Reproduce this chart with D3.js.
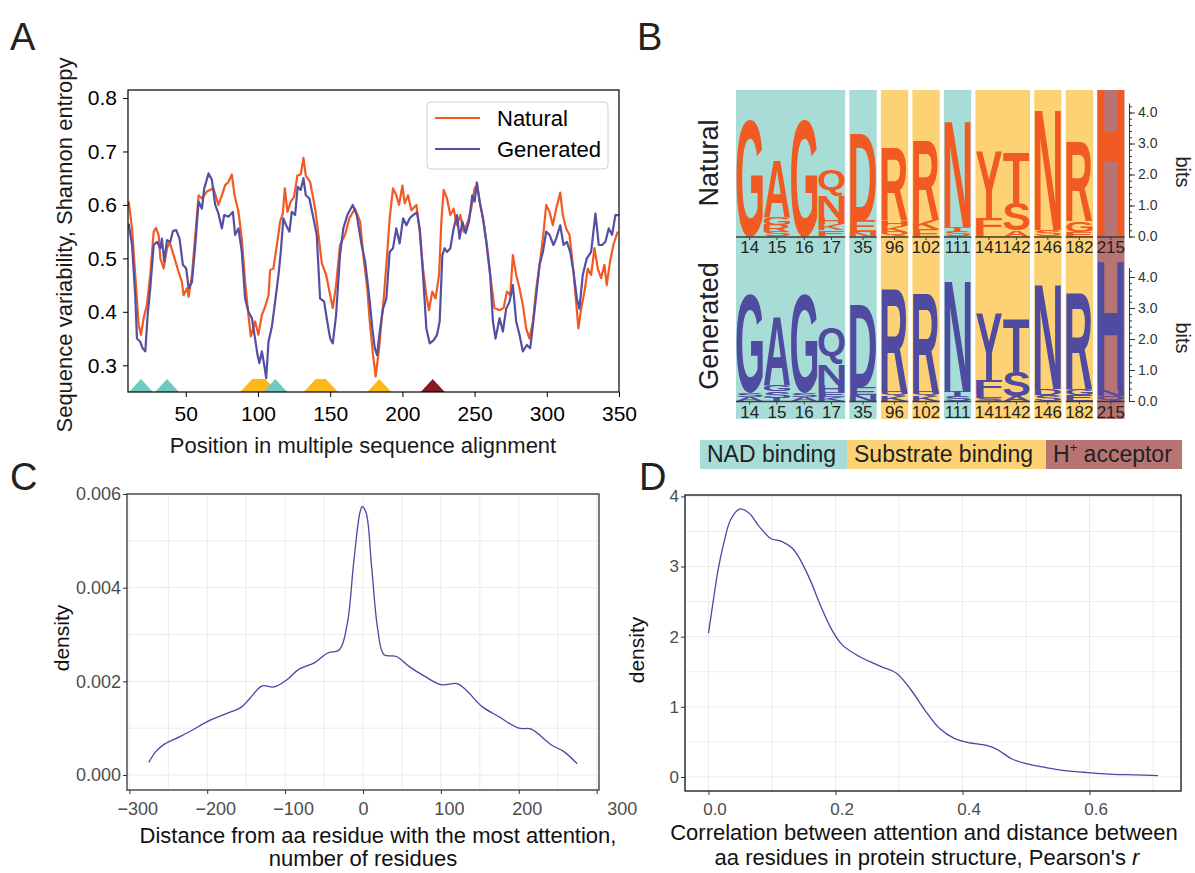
<!DOCTYPE html>
<html>
<head>
<meta charset="utf-8">
<script src="https://cdn.jsdelivr.net/npm/d3@7"></script>
<style>
  body { margin: 0; background: #fff; }
  svg text { font-family: "Liberation Sans", Arial, sans-serif; }
</style>
</head>
<body>
<svg id="fig" width="1195" height="873"></svg>
<script>
// Panel A: sequence variability (Shannon entropy) along the MSA
const naturalPos = [10.5,12.8,15,17.4,19,20.8,23.1,25.4,27.8,29.4,31.2,32.4,34.7,37,38.8,41.6,45,47.3,48.5,50.8,
  52,54.3,56.6,58.9,61.2,64.6,69.2,72.6,75,77.3,79.6,81.9,83.8,86.5,88.8,91.1,93.4,95,98,100.3,
  102.7,105,107.3,108.4,110.7,113.1,115.4,117.2,118.6,120.4,122.7,125,127.3,129.6,131.5,133.1,136.1,139.6,141.9,144.2,
  147.2,149.5,151.8,154.1,156.8,160.3,163.3,167.2,170.7,173.4,175.7,
  177.4,179.7,181.5,183.9,185.5,187.1,189.4,191.2,193.5,195.8,197.7,200,201.6,203.9,206.2,209.7,212,214.3,216.6,218.4,
  220.7,223,225.4,227,228.6,230.9,233.2,235.5,237.8,240.1,242.4,245.4,247.7,250,251.6,254,256.2,258.5,260.8,263.8,
  267.3,270.1,272.4,274.7,276.5,278.8,281.1,283.4,285.7,288,290.4,292.7,295,297.3,299.6,301.9,304.2,306.5,309.3,311.1,
  313.4,315.7,318,320.3,321.9,323.8,326.1,328.4,330.7,333,335.3,337.6,339.9,341.5,343.8,346.1,349.1];
const naturalEntropy = [0.606,0.556,0.469,0.375,0.357,0.388,0.413,0.469,0.55,0.557,0.544,0.5,0.481,0.519,0.531,0.506,0.475,0.456,0.431,0.444,
  0.428,0.469,0.544,0.618,0.612,0.625,0.631,0.6,0.618,0.637,0.643,0.657,0.618,0.587,0.537,0.456,0.394,0.354,0.382,0.357,
  0.394,0.41,0.431,0.478,0.481,0.525,0.569,0.584,0.631,0.587,0.606,0.615,0.655,0.657,0.688,0.655,0.643,0.593,0.544,0.491,
  0.469,0.438,0.407,0.45,0.525,0.544,0.575,0.593,0.569,0.494,0.444,
  0.382,0.319,0.279,0.332,0.382,0.425,0.506,0.575,0.631,0.618,0.6,0.636,0.603,0.618,0.59,0.6,0.55,0.481,0.431,0.403,
  0.438,0.425,0.469,0.569,0.628,0.612,0.581,0.593,0.562,0.581,0.55,0.569,0.593,0.631,0.637,0.6,0.569,0.525,0.469,0.407,
  0.403,0.407,0.438,0.431,0.506,0.469,0.444,0.413,0.369,0.35,0.382,0.444,0.488,0.537,0.6,0.587,0.562,0.593,0.623,0.581,
  0.556,0.544,0.488,0.419,0.369,0.406,0.438,0.481,0.469,0.519,0.481,0.463,0.488,0.45,0.494,0.525,0.55];
const generatedPos = [10.5,12.8,15,16.2,18.5,20.1,22,23.6,25.4,27.8,30.1,32.4,33.5,35.1,37,39.3,41.1,43.4,45.7,48,
  50.3,52,54.3,56.6,58.9,61.2,62.8,65.8,68.1,70.4,72.6,75,76.6,79.6,82.6,84.2,86.5,88.8,91.1,93.4,
  95.8,98,99.7,101,102.7,104.3,105.7,107.3,109.6,111.9,114.2,115.8,117.6,119.5,121.8,123.4,125.7,127.5,129.6,131.5,
  133.1,135.6,138.4,140.7,143,145.8,147.6,150,151.8,154.1,156.8,159.1,161.9,165.6,168.4,171.8,174.2,176.4,
  177.4,179.2,180.9,182.5,184.3,186.6,188.9,191.2,193.5,195.8,198.1,200.5,202.8,205.1,207.4,210.1,212,214.3,216.6,218.9,
  221.7,224,225.8,227.7,229.3,230.9,233.2,235.5,237.8,239.6,241.5,243.8,246.1,248.4,250,251.6,253.5,255.8,258.1,260.8,
  262.7,264.5,267.3,269.6,271.9,274.2,276.5,278.8,281.1,283.4,286.2,288.5,290.4,292.7,295,297.3,299.6,301.9,304.6,306.5,
  309.3,311.6,313.9,316.2,318.5,320.8,322.6,324.9,327.7,330.7,333.7,336,338.3,340.6,342.9,345.2,347.5,349.8];
const generatedEntropy = [0.565,0.525,0.431,0.35,0.344,0.332,0.326,0.394,0.444,0.525,0.531,0.519,0.537,0.494,0.534,0.531,0.551,0.553,0.537,0.488,
  0.481,0.444,0.456,0.525,0.606,0.593,0.631,0.659,0.647,0.6,0.584,0.556,0.581,0.578,0.587,0.544,0.556,0.512,0.425,0.4,
  0.388,0.35,0.319,0.304,0.326,0.301,0.276,0.344,0.372,0.419,0.469,0.512,0.575,0.562,0.55,0.587,0.581,0.634,0.628,0.65,
  0.618,0.612,0.575,0.544,0.425,0.419,0.388,0.35,0.341,0.394,0.506,0.556,0.581,0.6,0.581,0.525,0.494,0.444,
  0.419,0.369,0.332,0.319,0.363,0.406,0.425,0.512,0.519,0.556,0.528,0.575,0.562,0.575,0.581,0.586,0.556,0.469,0.369,0.341,
  0.347,0.357,0.382,0.506,0.519,0.512,0.519,0.556,0.581,0.537,0.569,0.547,0.569,0.618,0.606,0.642,0.606,0.575,0.531,0.469,
  0.382,0.35,0.388,0.363,0.406,0.419,0.45,0.382,0.357,0.326,0.338,0.332,0.375,0.431,0.488,0.512,0.55,0.544,0.525,0.537,
  0.562,0.525,0.531,0.512,0.475,0.425,0.406,0.469,0.5,0.512,0.584,0.525,0.525,0.531,0.556,0.544,0.581,0.581];
const entropyTicks = [0.3, 0.4, 0.5, 0.6, 0.7, 0.8];
const positionTicks = [50, 100, 150, 200, 250, 300, 350];
// functional sites marked under the curves (alignment positions)
const siteStart = [96, 140, 184, 19, 37, 112, 221];
const siteEnd   = [105, 147, 184, 19, 37, 112, 221];
const siteRole  = ["Sub", "Sub", "Sub", "NAD", "NAD", "NAD", "H"];

// Panel B: sequence logos of the key residues, letters stacked bottom to top as [letter, bits]
const logoResidues = [14, 15, 16, 17, 35, 96, 102, 111, 141, 142, 146, 182, 215];
const logoRoles = ["NAD", "NAD", "NAD", "NAD", "NAD", "Sub", "Sub", "NAD", "Sub", "Sub", "Sub", "Sub", "H"];
const naturalLogo = [
  [["G", 3.77]],
  [["S", 0.15], ["R", 0.23], ["G", 0.24], ["A", 1.84]],
  [["G", 3.77]],
  [["E", 0.2], ["K", 0.2], ["H", 0.2], ["N", 0.71], ["Q", 0.84]],
  [["N", 0.15], ["E", 0.35], ["D", 2.8]],
  [["Q", 0.15], ["K", 0.2], ["H", 0.15], ["R", 2.35]],
  [["E", 0.25], ["K", 0.27], ["R", 2.58]],
  [["S", 0.15], ["T", 0.15], ["N", 3.45]],
  [["L", 0.15], ["F", 0.45], ["Y", 2.15]],
  [["A", 0.2], ["S", 0.87], ["T", 1.65]],
  [["S", 0.2], ["N", 3.9]],
  [["E", 0.15], ["G", 0.35], ["R", 2.58]],
  [["H", 5.7]]
];
const generatedLogo = [
  [["A", 0.12], ["S", 0.12], ["G", 3.2]],
  [["T", 0.1], ["S", 0.22], ["G", 0.2], ["A", 2.2]],
  [["A", 0.12], ["S", 0.12], ["G", 3.2]],
  [["K", 0.12], ["E", 0.15], ["H", 0.25], ["N", 0.68], ["Q", 1.2]],
  [["N", 0.2], ["E", 0.25], ["D", 2.65]],
  [["K", 0.15], ["Q", 0.15], ["R", 3.3]],
  [["K", 0.15], ["Q", 0.15], ["R", 3.2]],
  [["S", 0.15], ["T", 0.15], ["N", 3.6]],
  [["S", 0.1], ["L", 0.15], ["F", 0.42], ["Y", 2.15]],
  [["A", 0.15], ["S", 0.8], ["T", 1.7]],
  [["S", 0.2], ["D", 0.2], ["N", 3.4]],
  [["E", 0.2], ["G", 0.2], ["R", 3.1]],
  [["Q", 0.15], ["N", 0.2], ["H", 4.2]]
];
const bitTicks = [0, 1, 2, 3, 4];
const roleLabels = ["NAD binding", "Substrate binding", "H+ acceptor"];

// Panel C: distance from the residue with the most attention (density)
const distX = [-275,-266,-255,-235,-219,-200,-177,-156,-145,-130,-114,-98,-83,-62,-46,-30,-20,-12,-4,-1,
  4,11,19,27,43,59,80,100,121,132,153,174,200,216,242,258,275];
const distDensity = [0.00027,0.0005,0.00066,0.00082,0.00096,0.00114,0.0013,0.00145,0.00164,0.0019,0.00188,0.00203,0.00225,0.0024,0.0026,0.00268,0.00325,0.00453,0.0056,0.00573,
  0.0056,0.00446,0.0031,0.00257,0.00253,0.00232,0.0021,0.00193,0.00195,0.00182,0.00146,0.00125,0.001,0.00098,0.00064,0.0005,0.00024];
const distTicks = [-300, -200, -100, 0, 100, 200, 300];
const distDensityTicks = [0, 0.002, 0.004, 0.006];

// Panel D: correlation between attention and residue distance (density)
const corrX = [0,0.007,0.015,0.024,0.035,0.049,0.064,0.08,0.098,0.115,0.132,0.143,0.16,0.177,0.194,0.211,0.239,0.273,0.296,0.319,
  0.341,0.364,0.387,0.409,0.438,0.455,0.477,0.5,0.528,0.557,0.591,0.631,0.67,0.708];
const corrDensity = [2.05,2.48,2.95,3.33,3.67,3.82,3.76,3.57,3.4,3.36,3.26,3.12,2.81,2.43,2.1,1.88,1.71,1.57,1.48,1.24,
  0.95,0.69,0.55,0.49,0.45,0.39,0.26,0.19,0.14,0.095,0.067,0.04,0.03,0.02];
const corrTicks = [0, 0.2, 0.4, 0.6];
const corrDensityTicks = [0, 1, 2, 3, 4];

const ORANGE = "#f25a24", PURPLE = "#5350a3";
const roleFill = { NAD: "#a8ddd7", Sub: "#fdd274", H: "#b87373" };
const siteFill = { NAD: "#6ecbc1", Sub: "#fdb815", H: "#8a1a1d" };

function panelLetter(svg, letter, x, y) {
  svg.append("text").attr("x", x).attr("y", y).attr("font-size", 38).attr("fill", "#222").text(letter);
}

function drawPanelA(svg) {
  const box = { left: 128, right: 619, top: 90, bottom: 392 };
  const x = d3.scaleLinear().domain([10, 350]).range([box.left, box.right]);
  const y = d3.scaleLinear().domain([0.25, 0.815]).range([box.bottom, box.top]);
  const g = svg.append("g");

  g.append("clipPath").attr("id", "clipA").append("rect")
    .attr("x", box.left).attr("y", box.top).attr("width", box.right - box.left).attr("height", box.bottom - box.top);

  // site markers (triangles / trapezoids)
  const h = 13, hw = 12;
  g.append("g").attr("clip-path", "url(#clipA)").selectAll("path")
    .data(siteStart.map((s, i) => ({ s, e: siteEnd[i], role: siteRole[i] })))
    .enter().append("path")
    .attr("d", d => `M${x(d.s) - hw},${box.bottom}L${x(d.s)},${box.bottom - h}L${x(d.e)},${box.bottom - h}L${x(d.e) + hw},${box.bottom}Z`)
    .attr("fill", d => siteFill[d.role]);

  const line = d3.line().x(d => x(d[0])).y(d => y(d[1]));
  const lines = g.append("g").attr("clip-path", "url(#clipA)");
  lines.append("path").datum(naturalPos.map((p, i) => [p, naturalEntropy[i]]))
    .attr("d", line).attr("fill", "none").attr("stroke", ORANGE).attr("stroke-width", 2.2).attr("stroke-linejoin", "round");
  lines.append("path").datum(generatedPos.map((p, i) => [p, generatedEntropy[i]]))
    .attr("d", line).attr("fill", "none").attr("stroke", PURPLE).attr("stroke-width", 2.2).attr("stroke-linejoin", "round");

  const yAxis = g.append("g").attr("transform", `translate(${box.left},0)`)
    .call(d3.axisLeft(y).tickValues(entropyTicks).tickFormat(d3.format(".1f")).tickSize(5).tickPadding(6).tickSizeOuter(0));
  const xAxis = g.append("g").attr("transform", `translate(0,${box.bottom})`)
    .call(d3.axisBottom(x).tickValues(positionTicks).tickSize(5).tickPadding(9).tickSizeOuter(0));
  [yAxis, xAxis].forEach(a => {
    a.selectAll("text").attr("font-size", 21).attr("fill", "#000").attr("font-family", "Liberation Sans");
    a.select(".domain").remove();
    a.selectAll("line").attr("stroke", "#000");
  });

  g.append("rect").attr("x", box.left).attr("y", box.top)
    .attr("width", box.right - box.left).attr("height", box.bottom - box.top)
    .attr("fill", "none").attr("stroke", "#000").attr("stroke-width", 1.2);

  // legend
  const lg = g.append("g");
  lg.append("rect").attr("x", 427).attr("y", 102).attr("width", 181).attr("height", 67).attr("rx", 4)
    .attr("fill", "#fff").attr("fill-opacity", 0.8).attr("stroke", "#d0d0d0");
  [["Natural", ORANGE, 118], ["Generated", PURPLE, 149]].forEach(([t, c, yy]) => {
    lg.append("line").attr("x1", 435).attr("x2", 480).attr("y1", yy).attr("y2", yy).attr("stroke", c).attr("stroke-width", 2.2);
    lg.append("text").attr("x", 497).attr("y", yy).attr("dy", "0.35em").attr("font-size", 22).attr("fill", "#000").text(t);
  });

  g.append("text").attr("transform", "translate(72,245) rotate(-90)").attr("text-anchor", "middle")
    .attr("font-size", 22).attr("fill", "#1a1a1a").text("Sequence variability, Shannon entropy");
  g.append("text").attr("x", 363).attr("y", 453).attr("text-anchor", "middle")
    .attr("font-size", 22).attr("fill", "#1a1a1a").text("Position in multiple sequence alignment");
}

// ink bounds of a glyph, used to stretch logo letters into their boxes
const measureCtx = document.createElement("canvas").getContext("2d");
measureCtx.font = "bold 100px 'Liberation Sans'";
function inkBox(ch) {
  const m = measureCtx.measureText(ch);
  return { x0: -m.actualBoundingBoxLeft, x1: m.actualBoundingBoxRight, y0: -m.actualBoundingBoxAscent, y1: m.actualBoundingBoxDescent };
}

function drawLetter(g, ch, x, yTop, w, h, color) {
  if (h < 3) return;
  const b = inkBox(ch);
  g.append("text").text(ch)
    .attr("font-family", "Liberation Sans").attr("font-weight", "bold").attr("font-size", 100)
    .attr("fill", color)
    .attr("transform", `translate(${x},${yTop}) scale(${w / (b.x1 - b.x0)},${h / (b.y1 - b.y0)}) translate(${-b.x0},${-b.y0})`);
}

function drawPanelB(svg) {
  const g = svg.append("g");
  const colW = 27.3, gap = 4.2, left = 736, bgTop = 90, bgBottom = 419, bitPx = 31;

  const colX = [];
  const groups = [];
  let cx = left;
  logoResidues.forEach((r, i) => {
    const joined = i > 0 && r === logoResidues[i - 1] + 1 && logoRoles[i] === logoRoles[i - 1];
    if (i > 0 && !joined) cx += gap;
    colX.push(cx);
    cx += colW;
    if (joined) groups[groups.length - 1].end = i;
    else groups.push({ start: i, end: i, role: logoRoles[i] });
  });

  groups.forEach(gr => {
    g.append("rect").attr("x", colX[gr.start]).attr("y", bgTop)
      .attr("width", colX[gr.end] + colW - colX[gr.start]).attr("height", bgBottom - bgTop)
      .attr("fill", roleFill[gr.role]);
  });

  const logos = [
    { stacks: naturalLogo, base: 236.5, top: bgTop, color: "#f15a22", name: "Natural", nameY: 163, bitsY: 172 },
    { stacks: generatedLogo, base: 401, top: 256, color: "#4f4ba0", name: "Generated", nameY: 326, bitsY: 338 }
  ];
  logos.forEach((L, li) => {
    const y = d3.scaleLinear().domain([0, 4.3]).range([L.base, L.base - 4.3 * bitPx]);
    g.append("clipPath").attr("id", "logoClip" + li).append("rect")
      .attr("x", 730).attr("y", L.top).attr("width", 400).attr("height", L.base - L.top);
    const lg = g.append("g").attr("clip-path", `url(#logoClip${li})`);
    L.stacks.forEach((stack, i) => {
      let acc = 0;
      stack.forEach(([ch, bits]) => {
        const y0 = y(acc), y1 = y(acc + bits);
        drawLetter(lg, ch, colX[i] + 0.5, y1, colW - 1, y0 - y1, L.color);
        acc += bits;
      });
    });

    groups.forEach(gr => {
      g.append("line").attr("x1", colX[gr.start]).attr("x2", colX[gr.end] + colW)
        .attr("y1", L.base + 0.5).attr("y2", L.base + 0.5).attr("stroke", "#3a3a3a").attr("stroke-width", 1.5);
    });
    logoResidues.forEach((r, i) => {
      const mx = colX[i] + colW / 2;
      g.append("line").attr("x1", mx).attr("x2", mx).attr("y1", L.base + 1).attr("y2", L.base + 3.5).attr("stroke", "#3a3a3a");
      g.append("text").attr("x", mx).attr("y", L.base + 16.5).attr("text-anchor", "middle")
        .attr("font-size", 17).attr("fill", "#222").text(r);
    });

    const ax = g.append("g").attr("transform", "translate(1129,0)")
      .call(d3.axisRight(y).tickValues(bitTicks).tickFormat(d3.format(".1f")).tickSize(6).tickPadding(3).tickSizeOuter(0));
    ax.selectAll("text").attr("font-size", 14).attr("fill", "#333").attr("font-family", "Liberation Sans");
    ax.selectAll("line, path").attr("stroke", "#333");
    g.append("g").attr("transform", "translate(1129,0)")
      .call(d3.axisRight(y).tickValues(d3.range(0, 4.3, 0.2)).tickFormat("").tickSize(3).tickSizeOuter(0))
      .selectAll("line, path").attr("stroke", "#333");

    g.append("text").attr("transform", `translate(709,${L.nameY}) rotate(-90)`).attr("text-anchor", "middle")
      .attr("dy", "0.35em").attr("font-size", 27).attr("fill", "#222").text(L.name);
    g.append("text").attr("transform", `translate(1183,${L.bitsY}) rotate(90)`).attr("text-anchor", "middle")
      .attr("dy", "0.35em").attr("font-size", 20).attr("fill", "#222").text("bits");
  });

  // role legend
  const edges = [700, 847, 1046, 1182];
  const roles = ["NAD", "Sub", "H"];
  roles.forEach((role, i) => {
    g.append("rect").attr("x", edges[i]).attr("y", 440).attr("width", edges[i + 1] - edges[i]).attr("height", 29)
      .attr("fill", roleFill[role]);
    const t = g.append("text").attr("x", edges[i] + 7).attr("y", 462).attr("font-size", 23).attr("fill", "#222");
    const label = roleLabels[i];
    if (label.startsWith("H+")) {
      t.append("tspan").text("H");
      t.append("tspan").attr("font-size", 13).attr("dy", -10).text("+");
      t.append("tspan").attr("dy", 10).text(label.slice(2));
    } else {
      t.text(label);
    }
  });
}

function densityPanel(svg, opt) {
  const { box, x, y, xs, ys } = opt;
  const g = svg.append("g");
  // grid
  opt.xGrid.forEach(v => g.append("line").attr("x1", x(v)).attr("x2", x(v)).attr("y1", box.top).attr("y2", box.bottom)
    .attr("stroke", "#ebebeb").attr("stroke-width", 1));
  opt.yGrid.forEach(v => g.append("line").attr("x1", box.left).attr("x2", box.right).attr("y1", y(v)).attr("y2", y(v))
    .attr("stroke", "#ebebeb").attr("stroke-width", 1));

  g.append("path").datum(xs.map((v, i) => [v, ys[i]]))
    .attr("d", d3.line().x(d => x(d[0])).y(d => y(d[1])).curve(d3.curveCatmullRom.alpha(0.5)))
    .attr("fill", "none").attr("stroke", "#4b47a2").attr("stroke-width", 1.3);

  g.append("rect").attr("x", box.left).attr("y", box.top)
    .attr("width", box.right - box.left).attr("height", box.bottom - box.top)
    .attr("fill", "none").attr("stroke", opt.border).attr("stroke-width", 1.3);

  const xa = g.append("g").attr("transform", `translate(0,${box.bottom})`)
    .call(d3.axisBottom(x).tickValues(opt.xTicks).tickFormat(opt.xFormat).tickSize(4).tickPadding(8).tickSizeOuter(0));
  xa.selectAll("text").attr("dx", opt.xLabelShift);
  const ya = g.append("g").attr("transform", `translate(${box.left},0)`)
    .call(d3.axisLeft(y).tickValues(opt.yTicks).tickFormat(opt.yFormat).tickSize(4).tickPadding(2).tickSizeOuter(0));
  [xa, ya].forEach(a => {
    a.select(".domain").remove();
    a.selectAll("line").attr("stroke", "#333");
    a.selectAll("text").attr("font-size", opt.tickFont).attr("fill", "#4d4d4d").attr("font-family", "Liberation Sans");
  });

  g.append("text").attr("transform", `translate(${opt.yTitle[0]},${opt.yTitle[1]}) rotate(-90)`)
    .attr("text-anchor", "middle").attr("dy", "0.35em").attr("font-size", 21).attr("fill", "#111").text("density");
  opt.xTitle.forEach(([t, tx, ty]) => {
    const el = g.append("text").attr("x", tx).attr("y", ty).attr("text-anchor", "middle").attr("font-size", 22).attr("fill", "#111");
    if (t.endsWith(" r")) {
      el.append("tspan").text(t.slice(0, -1));
      el.append("tspan").attr("font-style", "italic").text("r");
    } else el.text(t);
  });
}

function drawPanelC(svg) {
  const box = { left: 127, right: 599, top: 494, bottom: 790 };
  densityPanel(svg, {
    box, xs: distX, ys: distDensity,
    x: d3.scaleLinear().domain([-303, 303]).range([box.left, box.right]),
    y: d3.scaleLinear().domain([-0.00032, 0.006]).range([box.bottom, box.top]),
    xGrid: d3.range(-300, 301, 50), yGrid: d3.range(0, 0.0061, 0.001),
    xTicks: distTicks, yTicks: distDensityTicks,
    xFormat: d3.format("d"), yFormat: d3.format(".3f"),
    xLabelShift: d => d === 0 ? 0 : d === 300 ? 25 : 8,
    tickFont: 18, border: "#333",
    yTitle: [62, 638],
    xTitle: [["Distance from aa residue with the most attention,", 378, 843], ["number of residues", 363, 866]]
  });
}

function drawPanelD(svg) {
  const box = { left: 685, right: 1181, top: 495, bottom: 791 };
  densityPanel(svg, {
    box, xs: corrX, ys: corrDensity,
    x: d3.scaleLinear().domain([-0.037, 0.744]).range([box.left, box.right]),
    y: d3.scaleLinear().domain([-0.2, 4.02]).range([box.bottom, box.top]),
    xGrid: d3.range(0, 0.71, 0.1), yGrid: d3.range(0, 4.01, 0.5),
    xTicks: corrTicks, yTicks: corrDensityTicks,
    xFormat: d3.format(".1f"), yFormat: d3.format("d"),
    xLabelShift: 6,
    tickFont: 17, border: "#111",
    yTitle: [637, 650],
    xTitle: [["Correlation between attention and distance between", 924, 840], ["aa residues in protein structure, Pearson's r", 927, 865]]
  });
}

function render() {
  const svg = d3.select("#fig");
  drawPanelA(svg);
  drawPanelB(svg);
  drawPanelC(svg);
  drawPanelD(svg);
  panelLetter(svg, "A", 10, 50);
  panelLetter(svg, "B", 637, 50);
  panelLetter(svg, "C", 10, 490);
  panelLetter(svg, "D", 639, 490);
}

document.addEventListener("DOMContentLoaded", render);
</script>
</body>
</html>
